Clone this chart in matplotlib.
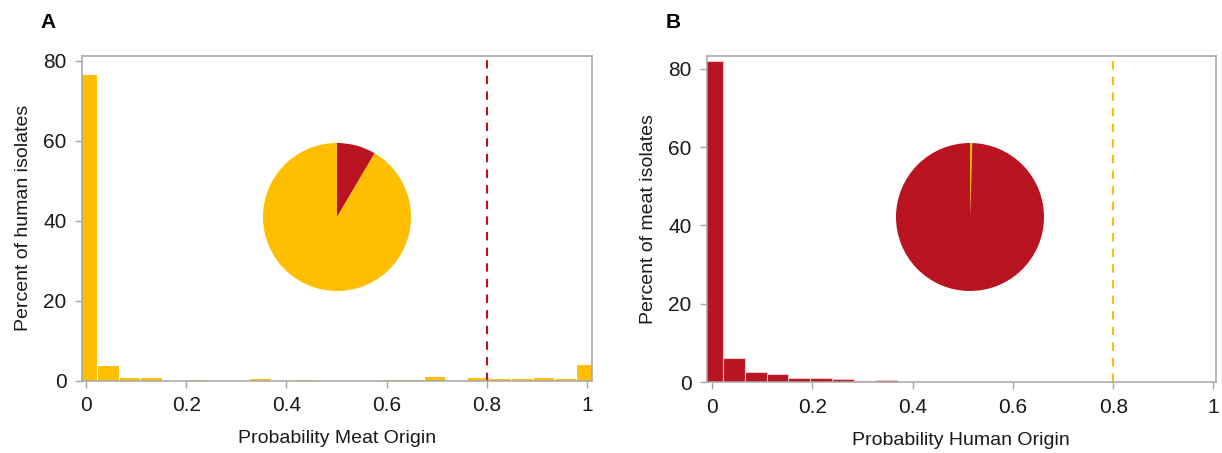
import numpy as np
import matplotlib.pyplot as plt

plt.rcParams['font.family'] = ['Liberation Sans', 'DejaVu Sans']

YELLOW = '#FFBE00'
RED = '#BA1420'

# 24 bins, centred on k/23
bin_centers = np.arange(24) / 23.0

human_pct = [76.6, 3.9, 0.87, 1.04, 0.26, 0.52, 0, 0, 0.7, 0.26, 0.43, 0,
             0.17, 0.1, 0.43, 0.52, 1.13, 0.1, 0.87, 0.78, 0.6, 0.87, 0.7, 4.26]
meat_pct = [82.0, 6.3, 2.7, 2.0, 1.0, 1.0, 0.9, 0.4, 0.7, 0, 0.1, 0,
            0.1, 0, 0, 0.1, 0, 0.2, 0, 0, 0, 0, 0, 0.1]

# pie shares: [other origin, own origin]
pie_a = [8.5, 91.5]     # red (meat), yellow (human)
pie_b = [0.5, 99.5]     # yellow (human), red (meat)

threshold = 0.8
xticks = [0, 0.2, 0.4, 0.6, 0.8, 1]
xticklabels = ['0', '0.2', '0.4', '0.6', '0.8', '1']
yticks = [0, 20, 40, 60, 80]

W, H = 1222, 453
fig = plt.figure(figsize=(W / 100, H / 100), dpi=100)


def px_axes(l, t, r, b):
    return fig.add_axes([l / W, 1 - b / H, (r - l) / W, (b - t) / H])


def style(ax, ylim, xlim):
    ax.set_xlim(*xlim)
    ax.set_ylim(*ylim)
    for s in ax.spines.values():
        s.set_color('#A6A6A6')
        s.set_linewidth(1.1)
    ax.tick_params(direction='out', length=5, width=1, color='#A6A6A6',
                   labelsize=15, pad=6, labelcolor='#1a1a1a')
    ax.set_xticks(xticks)
    ax.set_xticklabels(xticklabels)
    ax.set_yticks(yticks)


width = 1 / 23.0

ax1 = px_axes(82, 55.7, 592, 380.7)
ax1.bar(bin_centers, human_pct, width=width, color=YELLOW, edgecolor='white',
        linewidth=0.8)
ax1.axvline(threshold, color='#C0101A', linestyle=(0, (4, 3.5)), linewidth=1.5)
style(ax1, (0, 81.25), (-0.008, 1.01))
ax1.set_xlabel('Probability Meat Origin', fontsize=14, labelpad=11,
               color='#1a1a1a')
ax1.set_ylabel('Percent of human isolates', fontsize=14, labelpad=8,
               color='#1a1a1a')
fig.text(48 / W, 1 - 22 / H, 'A', fontsize=15, fontweight='bold',
         ha='center', va='center')

ax2 = px_axes(706.7, 55.7, 1216, 382.3)
ax2.bar(bin_centers, meat_pct, width=width, color=RED, edgecolor='#F2C4C4',
        linewidth=0.8)
ax2.axvline(threshold, color=YELLOW, linestyle=(0, (4, 3.5)), linewidth=1.5)
style(ax2, (0, 83.3), (-0.011, 1.005))
ax2.set_xlabel('Probability Human Origin', fontsize=14, labelpad=11,
               color='#1a1a1a')
ax2.set_ylabel('Percent of meat isolates', fontsize=14, labelpad=8,
               color='#1a1a1a')
fig.text(673 / W, 1 - 22 / H, 'B', fontsize=15, fontweight='bold',
         ha='center', va='center')

r = 74
pa = px_axes(337 - r, 217 - r, 337 + r, 217 + r)
pa.pie(pie_a, colors=[RED, YELLOW], startangle=90, counterclock=False,
       radius=1)
pa.set_xlim(-1, 1)
pa.set_ylim(-1, 1)

pb = px_axes(970 - r, 217 - r, 970 + r, 217 + r)
pb.pie(pie_b, colors=[YELLOW, RED], startangle=90, counterclock=False,
       radius=1)
pb.set_xlim(-1, 1)
pb.set_ylim(-1, 1)

fig.savefig('out.png', dpi=100)
